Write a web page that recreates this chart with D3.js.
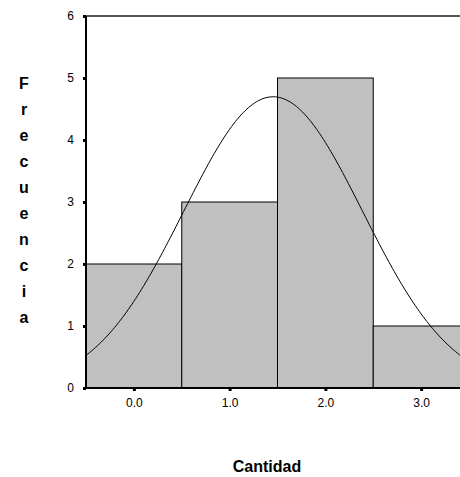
<!DOCTYPE html>
<html><head><meta charset="utf-8">
<script src="https://cdn.jsdelivr.net/npm/d3@7"></script>
<style>body{margin:0;background:#fff;}svg{display:block;font-family:Arial,"Liberation Sans",sans-serif;}</style>
</head><body>
<script>
const categories = [0, 1, 2, 3];
const frequencies = [2, 3, 5, 1];
const xTickLabels = ["0.0", "1.0", "2.0", "3.0"];
const yTicks = [0, 1, 2, 3, 4, 5, 6];
const yLabel = "Frecuencia";
const xLabel = "Cantidad";

const W = 460, H = 477;
const svg = d3.select("body").append("svg").attr("width", W).attr("height", H);

const x = d3.scaleLinear().domain([-0.5, 3.5]).range([86, 469]);
const y = d3.scaleLinear().domain([0, 6]).range([388, 16]);

// bars
svg.append("g").selectAll("rect").data(categories).join("rect")
  .attr("x", d => x(d - 0.5)).attr("width", d => x(d + 0.5) - x(d - 0.5))
  .attr("y", (d, i) => y(frequencies[i])).attr("height", (d, i) => y(0) - y(frequencies[i]))
  .attr("fill", "#c0c0c0").attr("stroke", "#000").attr("stroke-width", 1);

// fitted normal curve from data
const N = d3.sum(frequencies);
const mean = d3.sum(categories, (d, i) => d * frequencies[i]) / N;
const sd = Math.sqrt(d3.sum(categories, (d, i) => frequencies[i] * (d - mean) ** 2) / (N - 1));
const xs = d3.range(-0.5, 3.5001, 0.02);
const dens = v => N * 1 / (sd * Math.sqrt(2 * Math.PI)) * Math.exp(-0.5 * ((v - mean) / sd) ** 2);
svg.append("path").datum(xs)
  .attr("d", d3.line().x(v => x(v)).y(v => y(dens(v))))
  .attr("fill", "none").attr("stroke", "#000").attr("stroke-width", 1);

// top frame line
svg.append("line").attr("x1", x(-0.5)).attr("x2", W).attr("y1", y(6)).attr("y2", y(6))
  .attr("stroke", "#555").attr("stroke-width", 2);

// y axis
const yAxis = svg.append("g").attr("transform", `translate(${x(-0.5)},0)`)
  .call(d3.axisLeft(y).tickValues(yTicks).tickFormat(d3.format("d")).tickSize(3).tickPadding(9));
yAxis.select(".domain").attr("d", `M0,${y(6)}V${y(0)}`).attr("stroke", "#000").attr("stroke-width", 2);
yAxis.selectAll(".tick line").attr("stroke", "#000").attr("stroke-width", 3).attr("x2", -3);
yAxis.selectAll(".tick text").attr("font-size", 12).attr("fill", "#000").attr("font-family", "Arial, 'Liberation Sans', sans-serif");

// x axis
const xAxis = svg.append("g").attr("transform", `translate(0,${y(0)})`)
  .call(d3.axisBottom(x).tickValues(categories).tickFormat((d, i) => xTickLabels[i]).tickSize(3).tickPadding(7));
xAxis.select(".domain").attr("d", `M${x(-0.5)},0H${W}`).attr("stroke", "#000").attr("stroke-width", 2);
xAxis.selectAll(".tick line").attr("stroke", "#000").attr("stroke-width", 3);
xAxis.selectAll(".tick text").attr("font-size", 12).attr("fill", "#000").attr("font-family", "Arial, 'Liberation Sans', sans-serif");

// y label stacked letters
svg.append("g").selectAll("text").data(yLabel.split("")).join("text")
  .attr("x", 24).attr("y", (d, i) => 89 + i * 26)
  .attr("text-anchor", "middle").attr("font-size", 16).attr("font-weight", "bold").text(d => d);

svg.append("text").attr("x", 267).attr("y", 472).attr("text-anchor", "middle")
  .attr("font-size", 16).attr("font-weight", "bold").text(xLabel);
</script>
</body></html>
